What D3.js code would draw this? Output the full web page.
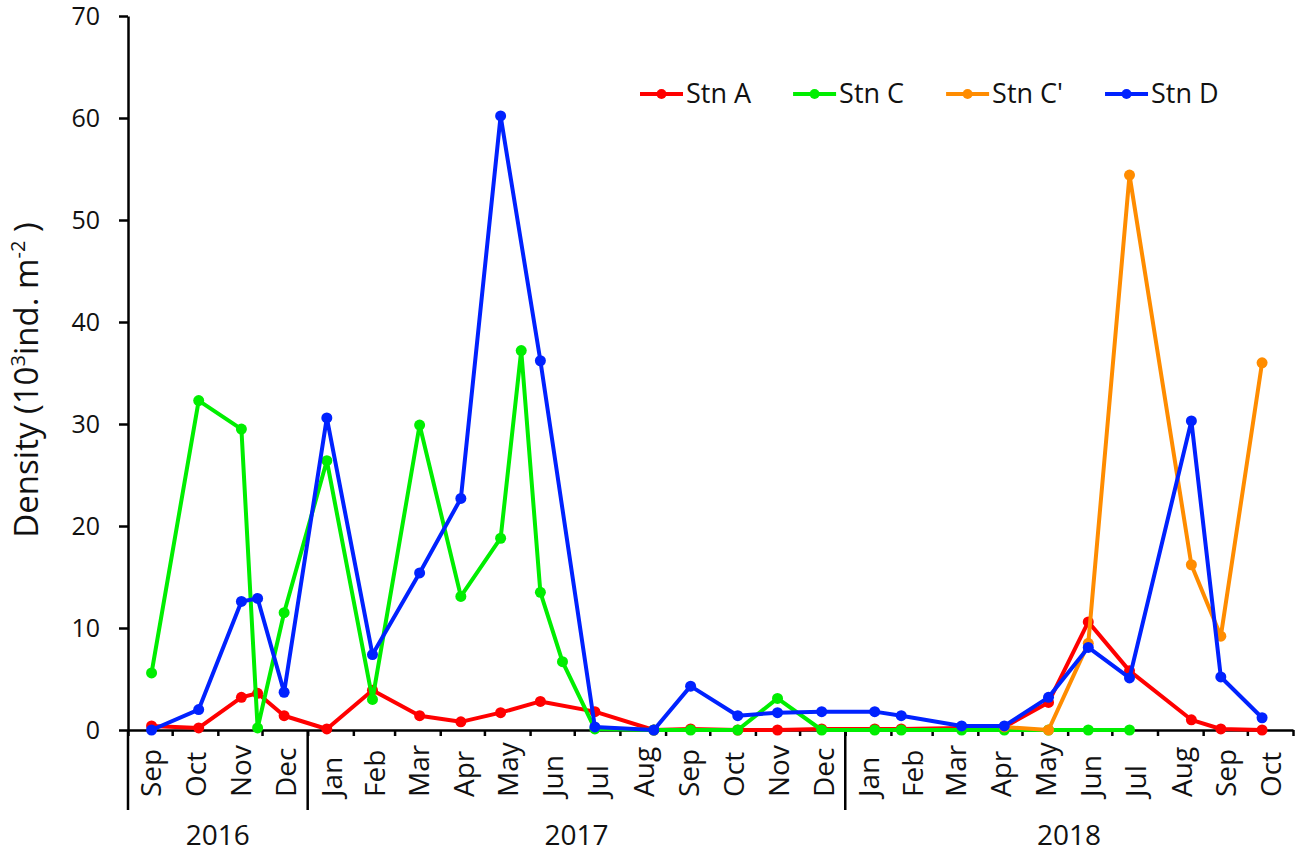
<!DOCTYPE html>
<html>
<head>
<meta charset="utf-8">
<script src="https://cdn.jsdelivr.net/npm/d3@7"></script>
<style>
  body { margin: 0; background: #fff; }
  svg { display: block; font-family: "Open Sans", sans-serif; }
</style>
</head>
<body>
<div id="chart"></div>
<script>
// sampling dates (shared by all stations, null = not sampled)
var sampleDates = [
  "2016-09-17", "2016-10-19", "2016-11-17", "2016-11-28", "2016-12-16",
  "2017-01-14", "2017-02-14", "2017-03-18", "2017-04-15", "2017-05-12",
  "2017-05-26", "2017-06-08", "2017-06-23", "2017-07-15", "2017-08-24",
  "2017-09-18", "2017-10-20", "2017-11-16", "2017-12-16", "2018-01-21",
  "2018-02-08", "2018-03-21", "2018-04-19", "2018-05-19", "2018-06-15",
  "2018-07-13", "2018-08-24", "2018-09-13", "2018-10-11"
];

var stnA  = [0.4, 0.2, 3.2, 3.6, 1.4, 0.1, 3.9, 1.4, 0.8, 1.7, null, 2.8, null, 1.8, 0.0,
             0.1, 0.0, 0.0, 0.1, 0.1, 0.1, 0.2, 0.3, 2.7, 10.6, 5.8, 1.0, 0.1, 0.0];
var stnC  = [5.6, 32.3, 29.5, 0.2, 11.5, 26.4, 3.0, 29.9, 13.1, 18.8, 37.2, 13.5, 6.7, 0.1, 0.0,
             0.0, 0.0, 3.1, 0.0, 0.0, 0.0, 0.0, 0.0, 0.0, 0.0, 0.0, null, null, null];
var stnCp = [null, null, null, null, null, null, null, null, null, null, null, null, null, null, null,
             null, null, null, null, null, null, null, 0.3, 0.0, 8.5, 54.4, 16.2, 9.2, 36.0];
var stnD  = [0.0, 2.0, 12.6, 12.9, 3.7, 30.6, 7.4, 15.4, 22.7, 60.2, null, 36.2, null, 0.3, 0.0,
             4.3, 1.4, 1.7, 1.8, 1.8, 1.4, 0.4, 0.4, 3.2, 8.1, 5.1, 30.3, 5.2, 1.2];

var stationNames  = ["Stn A", "Stn C", "Stn C'", "Stn D"];
var stationValues = [stnA, stnC, stnCp, stnD];
var stationColors = ["#ff0000", "#00ee00", "#ff8c00", "#0022ff"];

var monthLabels = ["Sep", "Oct", "Nov", "Dec",
                   "Jan", "Feb", "Mar", "Apr", "May", "Jun", "Jul", "Aug", "Sep", "Oct", "Nov", "Dec",
                   "Jan", "Feb", "Mar", "Apr", "May", "Jun", "Jul", "Aug", "Sep", "Oct"];
var yearLabels = ["2016", "2017", "2018"];
var yTicks = [0, 10, 20, 30, 40, 50, 60, 70];

var width = 1299, height = 855;
var parse = d3.timeParse("%Y-%m-%d");
var start = new Date(2016, 8, 1), end = new Date(2018, 10, 1);

var svg = d3.select("#chart").append("svg")
  .attr("width", width)
  .attr("height", height);

var x = d3.scaleTime().domain([start, end]).range([128, 1293]);
var y = d3.scaleLinear().domain([0, 70]).range([730, 16]);

// y axis
var yAxis = svg.append("g")
  .attr("transform", "translate(128,0)")
  .call(d3.axisLeft(y).tickValues(yTicks).tickSize(9).tickSizeOuter(0).tickPadding(19));
yAxis.select(".domain").attr("stroke", "#000").attr("stroke-width", 2.5);
yAxis.selectAll(".tick line").attr("stroke-width", 2.5);
yAxis.selectAll("text").attr("font-size", 25).attr("font-family", "Open Sans").attr("fill", "#111");

// x axis, one tick per month boundary
var xAxis = svg.append("g")
  .attr("transform", "translate(0," + y(0) + ")")
  .call(d3.axisBottom(x).ticks(d3.timeMonth.every(1)).tickSize(6).tickSizeOuter(0).tickFormat(""));
xAxis.select(".domain").attr("stroke", "#000").attr("stroke-width", 2.5);
xAxis.selectAll(".tick line").attr("stroke-width", 2.5);

// y axis continues down below the month labels, plus year separators
var yearBreaks = [start, new Date(2017, 0, 1), new Date(2018, 0, 1)];
svg.selectAll("line.sep").data(yearBreaks).enter().append("line")
  .attr("class", "sep")
  .attr("x1", function(d) { return x(d); })
  .attr("x2", function(d) { return x(d); })
  .attr("y1", y(0))
  .attr("y2", 810)
  .attr("stroke", "#000")
  .attr("stroke-width", 2.5);

// month labels, centred in their month
var months = d3.timeMonths(start, end);
svg.selectAll("text.month").data(monthLabels).enter().append("text")
  .attr("class", "month")
  .attr("transform", function(d, i) {
    var xc = (x(months[i]) + x(d3.timeMonth.offset(months[i], 1))) / 2;
    return "translate(" + xc + ",797) rotate(-90)";
  })
  .attr("dy", "0.4em")
  .attr("font-size", 28)
  .attr("fill", "#111")
  .text(function(d) { return d; });

// year labels
var yearEnds = [new Date(2017, 0, 1), new Date(2018, 0, 1), end];
svg.selectAll("text.year").data(yearLabels).enter().append("text")
  .attr("class", "year")
  .attr("x", function(d, i) { return (x(yearBreaks[i]) + x(yearEnds[i])) / 2; })
  .attr("y", 845)
  .attr("text-anchor", "middle")
  .attr("font-size", 28)
  .attr("fill", "#111")
  .text(function(d) { return d; });

// y axis title
var title = svg.append("text")
  .attr("transform", "translate(38,380) rotate(-90)")
  .attr("text-anchor", "middle")
  .attr("font-size", 33)
  .attr("fill", "#111");
title.append("tspan").text("Density (10");
title.append("tspan").attr("font-size", 20).attr("dy", -13).text("3");
title.append("tspan").attr("dy", 13).text("ind. m");
title.append("tspan").attr("font-size", 20).attr("dy", -13).text("-2");
title.append("tspan").attr("dy", 13).text(" )");

// series
var line = d3.line()
  .x(function(d) { return x(d.date); })
  .y(function(d) { return y(d.v); });

stationValues.forEach(function(vals, s) {
  var pts = sampleDates.map(function(d, i) { return { date: parse(d), v: vals[i] }; })
    .filter(function(p) { return p.v != null; });

  svg.append("path")
    .datum(pts)
    .attr("d", line)
    .attr("fill", "none")
    .attr("stroke", stationColors[s])
    .attr("stroke-width", 4)
    .attr("stroke-linejoin", "round");

  svg.append("g").selectAll("circle").data(pts).enter().append("circle")
    .attr("cx", function(d) { return x(d.date); })
    .attr("cy", function(d) { return y(d.v); })
    .attr("r", 5.5)
    .attr("fill", stationColors[s]);
});

// legend
var lx = 640;
stationNames.forEach(function(name, i) {
  var g = svg.append("g").attr("transform", "translate(" + lx + ",94)");
  g.append("line").attr("x1", 0).attr("x2", 43)
    .attr("stroke", stationColors[i]).attr("stroke-width", 4);
  g.append("circle").attr("cx", 21.5).attr("r", 5).attr("fill", stationColors[i]);
  var t = g.append("text").attr("x", 46).attr("dy", "0.35em")
    .attr("font-size", 27).attr("fill", "#111").text(name);
  lx += 46 + t.node().getComputedTextLength() + 42;
});
</script>
</body>
</html>
